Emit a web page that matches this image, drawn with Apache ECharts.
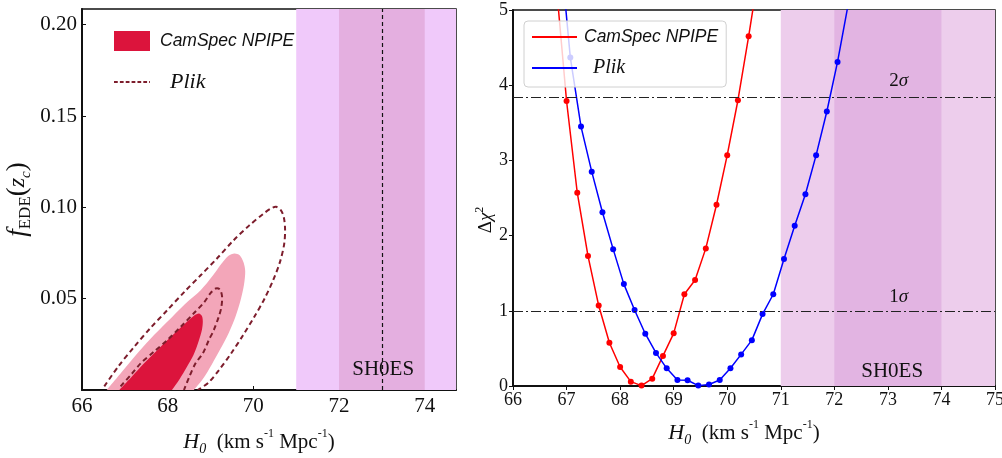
<!DOCTYPE html>
<html><head><meta charset="utf-8">
<script src="https://cdn.jsdelivr.net/npm/echarts@6/dist/echarts.min.js"></script>
<style>html,body{margin:0;padding:0;background:#fff}#c{width:1002px;height:458px}</style>
</head><body><div id="c"></div>
<script>
// ================= DATA =================
// Left panel: 2D posterior contours (H0, f_EDE)
const camspec2sigma = [[66.58,0],[66.9,0.009],[67.22,0.018],[67.6,0.028],[67.99,0.0373],[68.4,0.047],[68.77,0.0546],[69.05,0.0625],[69.25,0.069],[69.42,0.0735],[69.56,0.0748],[69.68,0.0738],[69.77,0.07],[69.81,0.065],[69.78,0.0575],[69.7,0.049],[69.58,0.04],[69.42,0.031],[69.22,0.022],[69.03,0.014],[68.82,0.006],[68.61,0]];
const camspec1sigma = [[66.87,0],[67.15,0.007],[67.45,0.0146],[67.72,0.021],[67.99,0.0273],[68.25,0.033],[68.45,0.0373],[68.62,0.0408],[68.73,0.0419],[68.8,0.0405],[68.82,0.0375],[68.8,0.033],[68.73,0.0273],[68.6,0.019],[68.45,0.0127],[68.28,0.006],[68.1,0]];
const plik1sigma = [[66.9,0.002],[67.15,0.0085],[67.37,0.0146],[67.68,0.021],[67.99,0.0273],[68.3,0.0345],[68.61,0.042],[68.85,0.048],[69.0,0.053],[69.12,0.0556],[69.22,0.055],[69.27,0.051],[69.25,0.045],[69.19,0.04],[69.08,0.033],[68.96,0.0273],[68.82,0.02],[68.65,0.0146],[68.5,0.007],[68.38,0]];
const plik2sigma = [[66.52,0.002],[66.85,0.013],[67.22,0.0237],[67.6,0.034],[67.99,0.0437],[68.4,0.054],[68.77,0.0628],[69.15,0.072],[69.54,0.082],[69.9,0.09],[70.24,0.0966],[70.42,0.0995],[70.53,0.1003],[70.64,0.0985],[70.71,0.0947],[70.74,0.088],[70.72,0.08],[70.62,0.07],[70.46,0.06],[70.26,0.05],[70.02,0.04],[69.76,0.03],[69.48,0.02],[69.2,0.011],[68.95,0.004],[68.7,0]];

// Right panel: delta chi^2 profiles
const camspecH0 = [66.8,67.0,67.2,67.4,67.6,67.8,68.0,68.2,68.4,68.6,68.8,69.0,69.2,69.4,69.6,69.8,70.0,70.2,70.4,70.6];
const camspecChi2 = [5.4,3.79,2.57,1.73,1.07,0.576,0.252,0.058,0.005,0.098,0.40,0.70,1.22,1.41,1.83,2.41,3.07,3.80,4.65,5.55];
const plikH0 = [66.87,67.07,67.27,67.47,67.67,67.87,68.07,68.27,68.47,68.67,68.87,69.07,69.26,69.46,69.66,69.86,70.06,70.26,70.46,70.66,70.86,71.06,71.26,71.46,71.66,71.86,72.06,72.26];
const plikChi2 = [5.9,4.37,3.45,2.85,2.31,1.82,1.355,1.01,0.695,0.44,0.235,0.08,0.076,0.005,0.02,0.08,0.235,0.42,0.61,0.956,1.22,1.69,2.13,2.55,3.07,3.65,4.31,5.08];

// SH0ES bands and reference lines
const sh0esOuter = [71, 75];
const sh0esInner = [72, 74];
const sh0esMean = 73;
const sigmaLevels = [3.84, 1];
const sigmaLabels = ['2', '1'];

// Axis ranges and tick labels
const leftXRange = [66, 74.73];
const leftYRange = [0, 0.2086];
const leftXTicks = [66, 68, 70, 72, 74];
const leftYTicks = ['0.05', '0.10', '0.15', '0.20'];
const rightXRange = [66, 75];
const rightYRange = [0, 5];
const rightXTicks = [66,67,68,69,70,71,72,73,74,75];
const rightYTicks = [0,1,2,3,4,5];

// ================= CHART =================
const serif = "'Liberation Serif', 'Times New Roman', serif";
const sans = "'Liberation Sans', Arial, sans-serif";

function contourSeries(name, pts, style, z) {
  return {
    type: 'custom', name, xAxisIndex: 0, yAxisIndex: 0, coordinateSystem: 'cartesian2d',
    data: pts, encode: {x: 0, y: 1}, silent: true, z,
    renderItem: function (params, api) {
      if (params.dataIndex !== 0) return null;
      const points = pts.map(p => api.coord(p));
      const cs = params.coordSys;
      return {
        type: 'polyline',
        shape: {points, smooth: 0.3},
        style,
        clipPath: {type: 'rect', shape: {x: cs.x, y: cs.y, width: cs.width, height: cs.height}}
      };
    }
  };
}

let dashPath = 'path://';
for (let x = 0; x < 43; x += 7) { const w = Math.min(4.5, 43 - x); dashPath += `M${x} 0h${w}v2.4h${-w}z `; }

const xNameRich = {
  h: {fontFamily: serif, fontStyle: 'italic', fontSize: 22, lineHeight: 28, color: '#111'},
  s0: {fontFamily: serif, fontStyle: 'italic', fontSize: 14, lineHeight: 14, verticalAlign: 'bottom', color: '#111'},
  t: {fontFamily: serif, fontSize: 21, lineHeight: 28, color: '#111'},
  sup: {fontFamily: serif, fontSize: 12, lineHeight: 12, verticalAlign: 'top', color: '#111'}
};
const xName = '{h|H}{s0|0}{t|  (km s}{sup|-1}{t| Mpc}{sup|-1}{t|)}';

const chart = echarts.init(document.getElementById('c'), null, {renderer: 'canvas'});
chart.setOption({
  animation: false,
  backgroundColor: '#fff',
  grid: [
    {left: 82, top: 9, width: 374, height: 381, show: true, borderColor: '#111', borderWidth: 1.5, backgroundColor: 'transparent', outerBoundsMode: 'none'},
    {left: 513, top: 10, width: 482, height: 376, show: true, borderColor: '#111', borderWidth: 1.5, backgroundColor: 'transparent', outerBoundsMode: 'none'}
  ],
  xAxis: [
    {gridIndex: 0, type: 'value', min: leftXRange[0], max: leftXRange[1], interval: 2,
     axisLine: {show: true, lineStyle: {color: '#111', width: 2}},
     axisTick: {show: true, inside: true, length: 4, lineStyle: {color: '#111'}},
     splitLine: {show: false},
     axisLabel: {fontFamily: serif, fontSize: 21, color: '#111', margin: 6, showMaxLabel: false,
       formatter: v => leftXTicks.includes(v) ? String(v) : ''},
     name: xName, nameLocation: 'middle', nameGap: 38, nameTextStyle: {rich: xNameRich, padding: [0, 20, 0, 0]}},
    {gridIndex: 1, type: 'value', min: rightXRange[0], max: rightXRange[1], interval: 1,
     axisLine: {show: true, lineStyle: {color: '#111', width: 2}},
     axisTick: {show: true, inside: false, length: 4, lineStyle: {color: '#111'}},
     splitLine: {show: false},
     axisLabel: {fontFamily: serif, fontSize: 18, color: '#111', margin: 5,
       formatter: v => rightXTicks.includes(v) ? String(v) : ''},
     name: xName, nameLocation: 'middle', nameGap: 33, nameTextStyle: {rich: xNameRich, padding: [0, 20, 0, 0]}}
  ],
  yAxis: [
    {gridIndex: 0, type: 'value', min: leftYRange[0], max: leftYRange[1], interval: 0.05,
     axisLine: {show: true, lineStyle: {color: '#111', width: 2}},
     axisTick: {show: true, inside: true, length: 4, lineStyle: {color: '#111'}},
     splitLine: {show: false},
     axisLabel: {fontFamily: serif, fontSize: 21, color: '#111', margin: 5, showMinLabel: false, showMaxLabel: false,
       formatter: v => { const s = v.toFixed(2); return leftYTicks.includes(s) ? s : ''; }},
     name: '{f|f}{sub|EDE}{p|(}{z|z}{c|c}{p|)}', nameLocation: 'middle', nameRotate: 90, nameGap: 48,
     nameTextStyle: {rich: {
       f: {fontFamily: serif, fontStyle: 'italic', fontSize: 27, lineHeight: 32, color: '#111'},
       sub: {fontFamily: serif, fontSize: 17, lineHeight: 17, verticalAlign: 'bottom', color: '#111'},
       p: {fontFamily: serif, fontSize: 27, lineHeight: 32, color: '#111'},
       z: {fontFamily: serif, fontStyle: 'italic', fontSize: 24, lineHeight: 32, color: '#111'},
       c: {fontFamily: serif, fontStyle: 'italic', fontSize: 15, lineHeight: 15, verticalAlign: 'bottom', color: '#111'}
     }}},
    {gridIndex: 1, type: 'value', min: rightYRange[0], max: rightYRange[1], interval: 1,
     axisLine: {show: true, lineStyle: {color: '#111', width: 2}},
     axisTick: {show: true, inside: false, length: 4, lineStyle: {color: '#111'}},
     splitLine: {show: false},
     axisLabel: {fontFamily: serif, fontSize: 18, color: '#111', margin: 5,
       formatter: v => rightYTicks.includes(v) ? String(v) : ''},
     name: '{t|Δ}{i|χ}{sup|2}', nameLocation: 'middle', nameRotate: 90, nameGap: 14,
     nameTextStyle: {padding: [0, 44, 0, 0], rich: {
       t: {fontFamily: serif, fontSize: 19, lineHeight: 24, color: '#111'},
       i: {fontFamily: serif, fontStyle: 'italic', fontSize: 19, lineHeight: 24, color: '#111'},
       sup: {fontFamily: serif, fontSize: 12, lineHeight: 12, verticalAlign: 'top', color: '#111'}
     }}}
  ],
  legend: [
    {left: 109, top: 26, orient: 'vertical', itemWidth: 36, itemHeight: 20, itemGap: 20, selectedMode: false,
     data: [
       {name: 'CamSpec NPIPE', icon: 'rect', itemStyle: {color: '#dc143c', borderWidth: 0}},
       {name: 'Plik', icon: dashPath, itemStyle: {color: '#7d1d2c', borderWidth: 0}}
     ],
     formatter: n => n === 'Plik' ? '{p|Plik}' : '{c|CamSpec NPIPE}',
     textStyle: {rich: {
       c: {fontFamily: sans, fontStyle: 'italic', fontSize: 17.5, color: '#111', padding: [0, 0, 0, 5]},
       p: {fontFamily: serif, fontStyle: 'italic', fontSize: 22, color: '#111', padding: [0, 0, 0, 15]}
     }}},
    {left: 524, top: 21, orient: 'vertical', itemWidth: 45, itemHeight: 2, itemGap: 12, selectedMode: false,
     icon: 'rect', padding: [7, 8, 9, 8], backgroundColor: 'rgba(255,255,255,0.8)',
     borderColor: '#d0d0d0', borderWidth: 1, borderRadius: 4,
     data: [
       {name: 'CamSpec NPIPE', itemStyle: {color: '#ff0000', borderWidth: 0}},
       {name: 'Plik', itemStyle: {color: '#0000ff', borderWidth: 0}}
     ],
     formatter: n => n === 'Plik' ? '{p| Plik}' : '{c|CamSpec NPIPE}',
     textStyle: {rich: {
       c: {fontFamily: sans, fontStyle: 'italic', fontSize: 17.5, color: '#111', lineHeight: 20, padding: [0, 0, 0, 2]},
       p: {fontFamily: serif, fontStyle: 'italic', fontSize: 20, color: '#111', lineHeight: 20, padding: [0, 0, 0, 6]}
     }}}
  ],
  series: [
    // ---- left panel ----
    {type: 'line', name: '_bandsL', xAxisIndex: 0, yAxisIndex: 0, data: [], z: 1, silent: true,
     markArea: {silent: true, data: [
       [{xAxis: sh0esOuter[0], itemStyle: {color: '#f0c9fa'}}, {xAxis: leftXRange[1]}],
       [{xAxis: sh0esInner[0], itemStyle: {color: '#e4afe0'}}, {xAxis: sh0esInner[1]}]
     ]}},
    {type: 'line', name: '_refL', xAxisIndex: 0, yAxisIndex: 0, data: [], z: 2, silent: true,
     markLine: {silent: true, symbol: ['none', 'none'], label: {show: false},
       lineStyle: {type: [4, 3], color: '#111', width: 1.2}, data: [{xAxis: sh0esMean}]},
     markPoint: {silent: true, symbol: 'circle', symbolSize: 0,
       label: {show: true, position: 'inside', fontFamily: serif, fontSize: 21, color: '#111'},
       data: [{coord: [73.03, 0.0112], label: {formatter: 'SH0ES'}}]}},
    contourSeries('CamSpec NPIPE', camspec2sigma, {fill: '#f3a6b9', stroke: null}, 3),
    contourSeries('CamSpec NPIPE', camspec1sigma, {fill: '#dc143c', stroke: null}, 4),
    contourSeries('Plik', plik2sigma, {fill: null, stroke: '#7d1d2c', lineWidth: 2, lineDash: [5, 3.5]}, 5),
    contourSeries('Plik', plik1sigma, {fill: null, stroke: '#7d1d2c', lineWidth: 2, lineDash: [5, 3.5]}, 5),
    // ---- right panel ----
    {type: 'line', name: '_bandsR', xAxisIndex: 1, yAxisIndex: 1, data: [], z: 1, silent: true,
     markArea: {silent: true, data: [
       [{xAxis: sh0esOuter[0], itemStyle: {color: '#edcdec'}}, {xAxis: sh0esOuter[1]}],
       [{xAxis: sh0esInner[0], itemStyle: {color: '#e2b4e2'}}, {xAxis: sh0esInner[1]}]
     ]}},
    {type: 'line', name: '_refR', xAxisIndex: 1, yAxisIndex: 1, data: [], z: 2, silent: true,
     markLine: {silent: true, symbol: ['none', 'none'], label: {show: false},
       lineStyle: {type: [10, 3, 2, 3], color: '#222', width: 1.2},
       data: sigmaLevels.map(v => ({yAxis: v}))},
     markPoint: {silent: true, symbol: 'circle', symbolSize: 0,
       label: {show: true, position: 'inside', fontFamily: serif, fontSize: 21, color: '#111'},
       data: [
         {coord: [73.08, 0.19], label: {formatter: 'SH0ES'}},
         {coord: [73.2, 4.06], label: {formatter: '{n|' + sigmaLabels[0] + '}{s|σ}', rich: {n: {fontFamily: serif, fontSize: 19, color: '#111'}, s: {fontFamily: serif, fontStyle: 'italic', fontSize: 19, color: '#111'}}}},
         {coord: [73.2, 1.18], label: {formatter: '{n|' + sigmaLabels[1] + '}{s|σ}', rich: {n: {fontFamily: serif, fontSize: 19, color: '#111'}, s: {fontFamily: serif, fontStyle: 'italic', fontSize: 19, color: '#111'}}}}
       ]}},
    {type: 'line', name: 'CamSpec NPIPE', xAxisIndex: 1, yAxisIndex: 1, z: 3,
     data: camspecH0.map((x, i) => [x, camspecChi2[i]]),
     symbol: 'circle', symbolSize: 6, showAllSymbol: true, clip: true,
     lineStyle: {color: '#ff0000', width: 1.5}, itemStyle: {color: '#ff0000'}},
    {type: 'line', name: 'Plik', xAxisIndex: 1, yAxisIndex: 1, z: 3,
     data: plikH0.map((x, i) => [x, plikChi2[i]]),
     symbol: 'circle', symbolSize: 6, showAllSymbol: true, clip: true,
     lineStyle: {color: '#0000ff', width: 1.5}, itemStyle: {color: '#0000ff'}}
  ]
});
</script>
</body></html>
